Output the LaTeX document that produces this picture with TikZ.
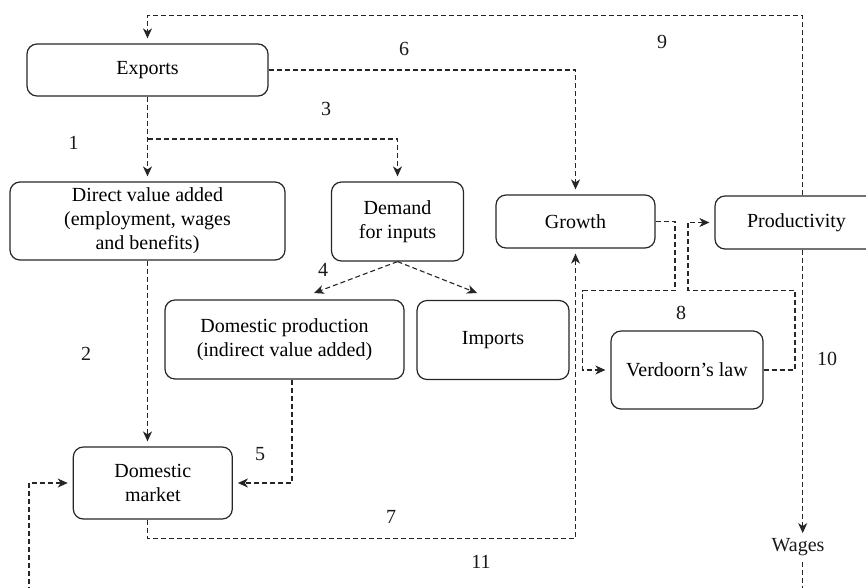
\documentclass[tikz,border=0pt]{standalone}
\usepackage{fontspec}
\setmainfont{Liberation Serif}
\usetikzlibrary{arrows.meta,calc}
\begin{document}
\begin{tikzpicture}[x=1pt,y=-1pt,
  box/.style={draw=black!85, line width=1.2pt, rounded corners=10pt, align=center, inner sep=0pt, font=\fontsize{20}{24}\selectfont},
  conn/.style={draw=black!85, line width=1.1pt, dash pattern=on 5pt off 3pt},
  arr/.style={conn, -{Stealth[length=10pt,width=9pt,inset=3pt]}, shorten >=5pt},
  lbl/.style={font=\fontsize{20}{24}\selectfont, inner sep=0pt, text=black!90}]
\useasboundingbox (0,0) rectangle (866,587);
% boxes
\node[box, minimum width=241pt, minimum height=52pt] (exp) at (147.5,70) {Exports};
\node[box, minimum width=275pt, minimum height=78pt] (dva) at (147.5,221) {Direct value added\\(employment, wages\\and benefits)};
\node[box, minimum width=132pt, minimum height=79pt] (dem) at (397.5,221.5) {Demand\\for inputs};
\node[box, minimum width=159pt, minimum height=53pt] (gro) at (575.5,221.5) {Growth};
\node[box, minimum width=163pt, minimum height=53pt] (pro) at (796.5,222.5) {Productivity};
\node[box, minimum width=239pt, minimum height=79pt] (dp) at (284.5,339.5) {Domestic production\\(indirect value added)};
\node[box, minimum width=152pt, minimum height=79pt] (imp) at (493,340) {Imports};
\node[box, minimum width=152pt, minimum height=78pt] (ver) at (687,370) {Verdoorn’s law};
\node[box, minimum width=159pt, minimum height=72pt] (dm) at (152.8,483) {Domestic\\market};
\node[lbl] (wag) at (798,547) {Wages};
% helper coordinates
\coordinate (wl) at (802.7,0);
\coordinate (ytop) at (0,15.7);
\coordinate (yb3) at (0,139);
\coordinate (t4a) at (314,293);
\coordinate (t4b) at (477,293);
\coordinate (x5) at (292,0);
\coordinate (y7) at (0,538.3);
\coordinate (x8a) at (675,0);
\coordinate (y8) at (0,290.7);
\coordinate (x8b) at (582.7,0);
\coordinate (x10a) at (795,0);
\coordinate (x10b) at (688,0);
\coordinate (ybot) at (0,600);
\coordinate (x11) at (29,0);
% connectors
\draw[arr] (pro.north -| wl) -- (wl |- ytop) -- (exp.north |- ytop) -- (exp.north);
\draw[arr] (exp.east) -| (gro.north);
\draw[arr] (exp.south) -- (dva.north);
\draw[arr] (exp.south |- yb3) -| (dem.north);
\draw[arr, shorten >=0pt] (dem.south) -- (t4a);
\draw[arr, shorten >=0pt] (dem.south) -- (t4b);
\draw[arr] (dva.south) -- (dva.south |- dm.north);
\draw[arr] (dp.south -| x5) |- (dm.east);
\draw[arr] (dva.south |- dm.south) |- (gro.south |- y7) -- (gro.south);
\draw[arr] (gro.east) -| (x8a |- y8) -- (x8b |- y8) |- (ver.west);
\draw[arr] (ver.east) -| (x10a |- y8) -- (x10b |- y8) |- (pro.west);
\draw[arr] (pro.south -| wl) -- (wl |- wag.north);
\draw[conn] ($(wl |- wag.south)+(0,6)$) -- (wl |- ybot);
\draw[arr] (x11 |- ybot) |- (dm.west);
% labels
\node[lbl] (n1) at (73.5,142.7) {1};
\node[lbl] (n2) at (86,354) {2};
\node[lbl] (n3) at (326,109) {3};
\node[lbl] (n4) at (323,270) {4};
\node[lbl] (n5) at (260,454) {5};
\node[lbl] (n6) at (404,49) {6};
\node[lbl] (n7) at (391,517) {7};
\node[lbl] (n8) at (681,313) {8};
\node[lbl] (n9) at (662,42) {9};
\node[lbl] (n10) at (827,359) {10};
\node[lbl] (n11) at (481,562) {11};
\end{tikzpicture}
\end{document}
